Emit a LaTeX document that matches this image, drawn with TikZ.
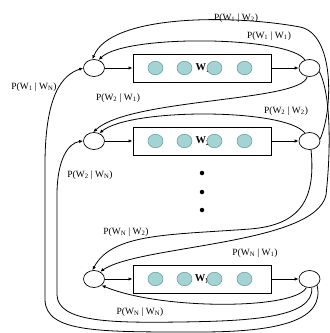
\documentclass[tikz,border=0pt]{standalone}
\usepackage{fontspec}
\setmainfont{Liberation Serif}
\usetikzlibrary{arrows.meta,shapes.geometric}
\definecolor{cellfill}{HTML}{A4D3D4}
\definecolor{celldraw}{HTML}{5F9A9C}

\begin{document}
\begin{tikzpicture}[x=1pt,y=-1pt,>={Latex[length=4pt,width=3.4pt]}, state/.style={ellipse,draw,line width=0.7pt,minimum width=21pt,minimum height=17pt,inner sep=0pt}, seg/.style={draw,line width=1pt,minimum width=138pt,minimum height=28pt,inner sep=0pt}, cell/.style={ellipse,draw=celldraw,fill=cellfill,line width=0.5pt,minimum width=15pt,minimum height=13.5pt,inner sep=0pt}, prob/.style={font=\fontsize{9.5}{11}\selectfont,inner sep=0pt}, flow/.style={->,line width=0.8pt}]
  \useasboundingbox (0,0) rectangle (330,333);
  \foreach \y/\i in {68/1,141/2,279/N}{
    \node[state] (in\i) at (94,\y) {};
    \node[seg] (box\i) at (202,\y) {};
    \node[state] (out\i) at (309.5,\y) {};
    \node[font=\fontsize{10.5}{12}\selectfont\bfseries,inner sep=0pt] (w\i) at (203,\y) {W\textsubscript{\i}};
    \foreach \x/\j in {155.5/1,184.5/2,214.5/3,244.5/4}{\node[cell] (c\i\j) at (\x,\y) {};}
    \draw[flow] (in\i) -- (box\i);
    \draw[flow] (box\i) -- (out\i);
  }
  \foreach \y/\i in {173/1,192/2,210/3}{\node[circle,fill,inner sep=0pt,minimum size=4.5pt] (dot\i) at (202,\y) {};}
  \draw[flow] (out1.120) .. controls (290,36) and (125,34) .. (in1.60);
  \draw[flow] (out2.10) .. controls (333,110) and (335,34) .. (300,27) .. controls (230,14) and (110,15) .. (in1.100);
  \draw[flow] (outN.-40) .. controls (325,320) and (280,332) .. (200,332) .. controls (100,332) and (46,333) .. (45,300) -- (45,165) .. controls (45,95) and (62,75) .. (in1.west);
  \draw[flow] (out1.-105) .. controls (302,102) and (130,98) .. (in2.95);
  \draw[flow] (out2.120) .. controls (285,108) and (130,108) .. (in2.55);
  \draw[flow] (outN.-75) .. controls (314,318) and (250,321) .. (180,322) .. controls (110,323) and (58,322) .. (57,295) -- (57,195) .. controls (57,160) and (68,143) .. (in2.west);
  \draw[flow] (out2.-80) .. controls (316,200) and (300,225) .. (250,229) .. controls (170,235) and (112,233) .. (inN.100);
  \draw[flow] (out1.-20) .. controls (331,95) and (331,150) .. (326,195) .. controls (315,245) and (140,245) .. (inN.50);
  \draw[flow] (outN.-110) .. controls (295,310) and (160,310) .. (inN.-40);
  \node[prob] (l12) at (236,18) {P(W\textsubscript{1} | W\textsubscript{2})};
  \node[prob] (l11) at (269,36) {P(W\textsubscript{1} | W\textsubscript{1})};
  \node[prob] (l1N) at (34,87) {P(W\textsubscript{1} | W\textsubscript{N})};
  \node[prob] (l21) at (118,98) {P(W\textsubscript{2} | W\textsubscript{1})};
  \node[prob] (l22) at (286,111) {P(W\textsubscript{2} | W\textsubscript{2})};
  \node[prob] (l2N) at (90,175) {P(W\textsubscript{2} | W\textsubscript{N})};
  \node[prob] (lN2) at (126,232) {P(W\textsubscript{N} | W\textsubscript{2})};
  \node[prob] (lN1) at (255,253) {P(W\textsubscript{N} | W\textsubscript{1})};
  \node[prob] (lNN) at (140,312) {P(W\textsubscript{N} | W\textsubscript{N})};
\end{tikzpicture}
\end{document}
